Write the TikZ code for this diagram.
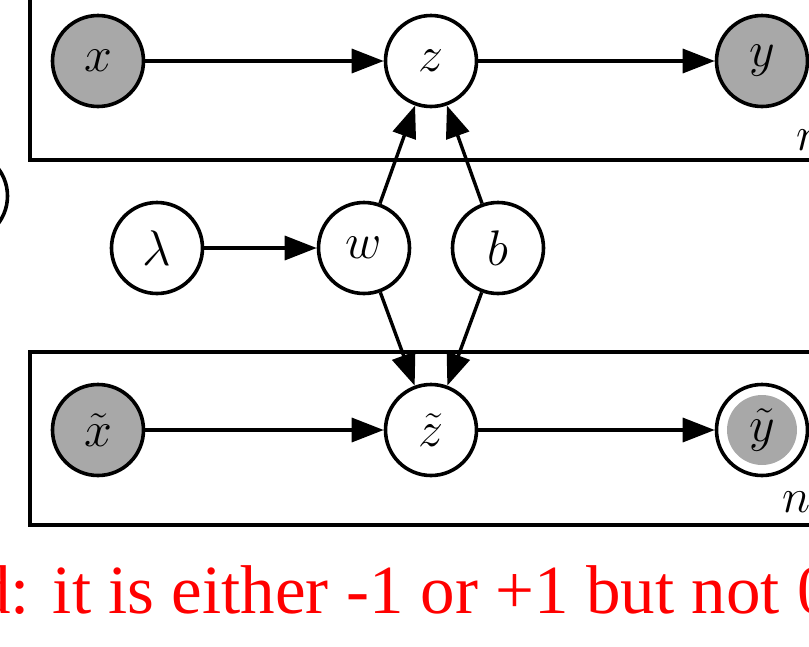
\RequirePackage{fix-cm}
\documentclass[tikz,border=0pt]{standalone}
\usepackage{fontspec}
\newfontfamily\redfont{Liberation Serif}
\usetikzlibrary{arrows.meta}
\definecolor{obsgray}{RGB}{168,168,168}
\definecolor{notered}{RGB}{255,0,0}
\begin{document}
\begin{tikzpicture}[x=1pt,y=-1pt,
 var/.style={circle,draw,line width=3.6pt,minimum size=91pt,inner sep=0pt,font=\fontsize{50}{50}\selectfont},
 obs/.style={var,fill=obsgray},
 edge/.style={line width=3.4pt,-{Triangle[length=32pt,width=24pt]}},
 plate/.style={draw,line width=3.4pt},
 platelabel/.style={anchor=base west,inner sep=0pt,font=\fontsize{48}{48}\selectfont}]
\useasboundingbox (0,0) rectangle (809,646);
\clip (0,0) rectangle (809,646);
\draw[plate] (30,-20) rectangle (850,160);
\draw[plate] (30,352) rectangle (850,525);
\node[platelabel] (n1) at (796,150) {$n$};
\node[platelabel] (n2) at (782,512) {$n$};
\node[obs] (x) at (98,61) {$x$};
\node[var] (z) at (431,61) {$z$};
\node[obs] (y) at (762,61) {$y$};
\node[var] (left) at (-38,196) {};
\node[var] (lam) at (157,248) {$\lambda$};
\node[var] (w) at (364,248) {$w$};
\node[var] (b) at (498,248) {$b$};
\node[obs] (xt) at (98,430) {$\tilde{x}$};
\node[var] (zt) at (431,430) {$\tilde{z}$};
\node[var] (yt) at (762,430) {};
\node[circle,fill=obsgray,minimum size=70pt,inner sep=0pt,font=\fontsize{50}{50}\selectfont] (ytin) at (yt) {$\tilde{y}$};
\draw[edge] (x) -- (z);
\draw[edge] (z) -- (y);
\draw[edge] (lam) -- (w);
\draw[edge] (w) -- (z);
\draw[edge] (b) -- (z);
\draw[edge] (w) -- (zt);
\draw[edge] (b) -- (zt);
\draw[edge] (xt) -- (zt);
\draw[edge] (zt) -- (yt);
\node[anchor=base west,inner sep=0pt,text=notered,font=\redfont\fontsize{69}{69}\selectfont] (note) at (-24,613) {d: it is either -1 or +1 but not 0};
\end{tikzpicture}
\end{document}
